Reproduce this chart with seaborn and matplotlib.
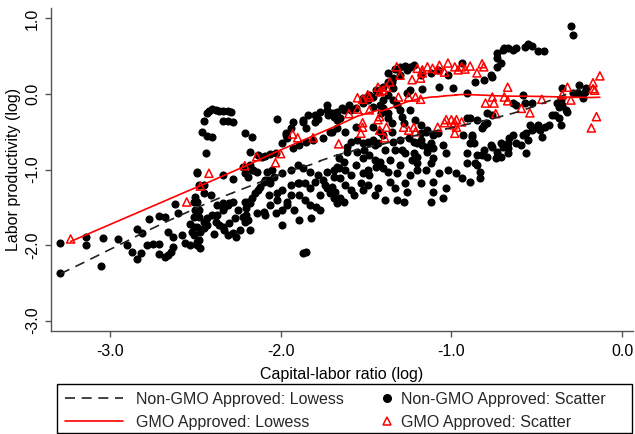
import numpy as np
import pandas as pd
import matplotlib
matplotlib.use("Agg")
import matplotlib.pyplot as plt
import seaborn as sns
from matplotlib.lines import Line2D
from matplotlib.patches import Rectangle

sns.set_theme(style="white")
plt.rcParams['font.family'] = ['Liberation Sans', 'DejaVu Sans']

# ---------------- data (log capital-labor ratio, log labor productivity) ----------------
nongmo_lowleft = [
    (-3.29, -1.97), (-3.29, -2.37), (-3.14, -1.89), (-3.14, -2.00), (-3.05, -2.28), (-3.04, -1.91),
    (-2.95, -1.92), (-2.90, -2.00), (-2.87, -2.09), (-2.84, -2.19), (-2.82, -2.11), (-2.84, -1.79),
    (-2.81, -1.84), (-2.77, -1.66), (-2.78, -2.00), (-2.75, -1.99), (-2.71, -1.62), (-2.68, -1.63),
    (-2.71, -1.99), (-2.71, -2.12), (-2.68, -2.16), (-2.66, -2.13), (-2.64, -2.09), (-2.63, -2.03),
    (-2.63, -1.89), (-2.66, -1.83), (-2.62, -1.46), (-2.60, -1.58), (-2.58, -1.87), (-2.56, -1.97),
    (-2.53, -1.72), (-2.51, -1.87), (-2.53, -2.00), (-2.49, -2.00), (-2.48, -1.93), (-2.50, -1.36),
    (-2.49, -1.43), (-2.48, -1.54), (-2.48, -1.63), (-2.49, -1.05), (-2.48, -1.21), (-2.51, -1.76),
    (-2.45, -1.21), (-2.51, -1.43), (-2.50, -1.54), (-2.51, -1.63), (-2.52, -1.83), (-2.49, -1.96),
    (-2.47, -2.04), (-2.49, -1.76),
]
nongmo_loop = [
    (-2.47, -1.83), (-2.45, -1.77), (-2.43, -1.74), (-2.43, -1.64), (-2.40, -1.60), (-2.38, -1.70),
    (-2.37, -1.60), (-2.34, -1.54), (-2.33, -1.50), (-2.30, -1.44), (-2.28, -1.43), (-2.39, -1.85),
    (-2.36, -1.74), (-2.34, -1.76), (-2.30, -1.71), (-2.28, -1.84), (-2.26, -1.89), (-2.24, -1.80),
    (-2.27, -1.64), (-2.22, -1.63), (-2.20, -1.60), (-2.19, -1.67), (-2.20, -1.51), (-2.18, -1.44),
    (-2.14, -1.58), (-2.09, -1.60), (-2.03, -1.58), (-1.99, -1.74), (-1.99, -1.54), (-1.96, -1.47),
    (-1.87, -2.11), (-1.85, -2.09), (-1.82, -1.64), (-1.79, -1.50), (-2.45, -1.70), (-2.37, -1.47),
    (-2.34, -1.44), (-2.31, -1.47), (-2.25, -1.54), (-2.21, -1.70), (-2.18, -1.80), (-2.33, -1.80),
    (-2.31, -1.87),
]
nongmo_hook = [
    (-2.43, -0.25), (-2.42, -0.23), (-2.40, -0.20), (-2.38, -0.21), (-2.36, -0.23), (-2.34, -0.23),
    (-2.31, -0.23), (-2.29, -0.24), (-2.45, -0.36), (-2.34, -0.36), (-2.31, -0.36), (-2.28, -0.37),
    (-2.46, -0.50), (-2.43, -0.56), (-2.40, -0.57), (-2.44, -0.78), (-2.49, -1.03), (-2.21, -0.52),
    (-2.17, -0.57), (-2.18, -0.77),
]
nongmo_mid_upper = [
    (-2.13, -0.81), (-2.11, -0.83), (-2.09, -0.82), (-2.06, -0.79), (-2.03, -0.78), (-2.02, -0.33),
    (-1.99, -0.65), (-1.97, -0.52), (-1.94, -0.45), (-1.93, -0.37), (-1.87, -0.37), (-1.85, -0.45),
    (-1.80, -0.37), (-1.78, -0.33), (-1.73, -0.15), (-1.72, -0.28), (-1.68, -0.25), (-1.67, -0.34),
    (-1.96, -0.58), (-1.93, -0.72), (-1.89, -0.68), (-1.85, -0.64), (-1.81, -0.61), (-1.75, -0.58),
    (-1.71, -0.50), (-1.67, -0.45), (-2.22, -0.97), (-2.18, -0.94), (-2.16, -1.01), (-2.14, -1.03),
    (-2.08, -1.03), (-2.05, -1.01), (-1.99, -1.05), (-1.94, -1.01), (-1.90, -0.94), (-1.73, -1.03),
    (-1.69, -1.01), (-1.66, -0.98), (-2.34, -1.07), (-2.28, -1.13), (-2.21, -1.05), (-2.19, -1.10),
    (-2.17, -1.01), (-2.09, -1.14), (-2.06, -1.18), (-2.45, -1.31), (-2.41, -1.34), (-1.97, -0.54),
]
nongmo_mid_band = [
    (-2.21, -1.43), (-2.19, -1.43), (-2.17, -1.38), (-2.15, -1.31), (-2.13, -1.27), (-2.12, -1.23),
    (-2.10, -1.17), (-2.07, -1.14), (-2.04, -1.10), (-2.10, -1.56), (-2.06, -1.47), (-1.96, -1.43),
    (-1.94, -1.34), (-2.02, -1.31), (-1.90, -1.18), (-1.86, -1.18), (-1.80, -1.17), (-1.75, -1.14),
    (-1.73, -1.25), (-1.71, -1.31), (-1.69, -1.38), (-1.67, -1.44), (-1.87, -0.98), (-1.83, -1.03),
    (-1.78, -1.07), (-1.89, -1.34), (-1.86, -1.40), (-1.92, -1.54), (-1.77, -1.34), (-1.74, -1.21),
    (-1.89, -1.18), (-1.83, -1.25), (-1.94, -1.21), (-1.99, -1.27), (-2.02, -1.40), (-2.07, -1.34),
    (-1.83, -1.47), (-1.77, -1.54), (-1.89, -1.67),
]
nongmo_upper = [
    (-1.87, -0.34), (-1.84, -0.28), (-1.80, -0.28), (-1.77, -0.24), (-1.73, -0.21), (-1.70, -0.25),
    (-1.67, -0.24), (-1.63, -0.21), (-1.59, -0.21), (-1.56, -0.19), (-1.52, -0.12), (-1.49, -0.08),
    (-1.46, -0.04), (-1.43, 0.03), (-1.40, 0.09), (-1.37, 0.16), (-1.34, 0.21), (-1.30, 0.25),
    (-1.26, 0.32), (-1.24, 0.36), (-1.22, 0.38), (-1.64, -0.19), (-1.60, -0.15), (-1.52, -0.05),
    (-1.48, -0.01), (-1.44, 0.05), (-1.37, 0.28), (-1.33, 0.33), (-1.30, 0.36), (-1.27, 0.37),
    (-1.18, 0.25), (-1.12, 0.28), (-1.08, 0.32), (-1.02, 0.25), (-0.94, 0.41), (-0.86, 0.16),
    (-1.35, 0.16), (-1.34, 0.08), (-1.37, -0.01), (-1.40, -0.08), (-1.42, -0.15), (-1.24, 0.05),
    (-1.26, 0.01), (-1.07, 0.09), (-0.99, 0.08), (-0.91, 0.01), (-1.17, 0.07), (-1.69, -0.30),
    (-1.65, -0.32), (-1.40, -0.19), (-1.37, -0.25), (-1.34, -0.08), (-1.32, -0.15), (-1.30, -0.21),
    (-1.29, -0.30), (-1.28, -0.38), (-1.37, -0.32), (-1.35, -0.38), (-1.46, -0.17), (-1.41, -0.25),
    (-1.24, -0.21), (-1.21, -0.34), (-1.18, -0.41), (-0.91, -0.32), (-0.85, -0.34),
]
nongmo_upper_right = [
    (-0.30, 0.90), (-0.29, 0.78), (-0.73, 0.48), (-0.73, 0.54), (-0.70, 0.58), (-0.69, 0.61),
    (-0.67, 0.61), (-0.64, 0.58), (-0.62, 0.61), (-0.57, 0.62), (-0.55, 0.66), (-0.53, 0.64),
    (-0.49, 0.57), (-0.46, 0.57), (-0.73, 0.36), (-0.71, 0.41), (-0.77, 0.25), (-0.76, 0.23),
    (-0.81, 0.19),
]
nongmo_right = [
    (-0.58, -0.01), (-0.64, -0.12), (-0.62, -0.15), (-0.57, -0.12), (-0.53, -0.12), (-0.38, -0.12),
    (-0.37, -0.17), (-0.35, -0.15), (-0.33, -0.21), (-0.32, -0.24), (-0.41, -0.28), (-0.39, -0.28),
    (-0.37, -0.32), (-0.35, 0.08), (-0.25, 0.12), (-0.21, 0.08), (-0.29, 0.01), (-0.26, 0.01),
    (-0.23, -0.05), (-0.43, -0.41), (-0.49, -0.41), (-0.51, -0.45), (-0.45, -0.44), (-0.36, -0.41),
    (-0.79, -0.25), (-0.76, -0.28), (-0.82, -0.45), (-0.89, -0.32), (-0.22, 0.03), (-0.36, -0.08),
    (-0.54, -0.41),
]
nongmo_center = [
    (-1.70, -0.50), (-1.62, -0.50), (-1.56, -0.44), (-1.46, -0.44), (-1.42, -0.50), (-1.40, -0.54),
    (-1.35, -0.50), (-1.59, -0.64), (-1.61, -0.70), (-1.61, -0.77), (-1.52, -0.65), (-1.49, -0.64),
    (-1.46, -0.61), (-1.45, -0.68), (-1.43, -0.65), (-1.34, -0.64), (-1.30, -0.61), (-1.18, -0.52),
    (-1.15, -0.50), (-1.14, -0.48), (-1.25, -0.58), (-1.22, -0.64), (-1.20, -0.65), (-1.18, -0.61),
    (-1.17, -0.68), (-1.14, -0.70), (-1.12, -0.65), (-1.11, -0.54), (-1.08, -0.52), (-1.29, -0.74),
    (-1.27, -0.78), (-1.22, -0.78), (-1.20, -0.83), (-1.14, -0.77), (-1.05, -0.68), (-1.03, -0.78),
    (-0.93, -0.54), (-0.88, -0.54), (-0.87, -0.65), (-0.91, -0.78), (-1.11, -0.72), (-1.11, -0.85),
    (-1.12, -0.91), (-1.66, -0.85), (-1.63, -0.90), (-1.67, -0.97), (-1.62, -1.01), (-1.59, -1.07),
    (-1.65, -1.11), (-1.69, -1.10), (-1.70, -1.23), (-1.68, -1.30), (-1.65, -1.38), (-1.63, -1.43),
    (-1.55, -0.77), (-1.52, -0.85), (-1.48, -0.81), (-1.45, -0.87), (-1.42, -0.90), (-1.44, -0.97),
    (-1.40, -0.98), (-1.49, -1.01), (-1.52, -1.05), (-1.48, -1.07), (-1.53, -1.18), (-1.52, -1.27),
    (-1.57, -1.34), (-1.45, -1.34), (-1.43, -1.25), (-1.39, -1.40), (-1.32, -1.40), (-1.28, -1.43),
    (-1.36, -1.17), (-1.33, -1.25), (-1.27, -1.18), (-1.26, -1.30), (-1.32, -1.05), (-1.20, -0.91),
    (-1.20, -1.01), (-1.24, -1.07), (-1.18, -1.18), (-1.12, -1.43), (-1.05, -1.38), (-1.03, -1.25),
    (-1.11, -1.17), (-1.07, -1.05), (-1.02, -1.01), (-1.11, -1.30), (-0.97, -1.05), (-0.94, -1.11),
    (-0.89, -1.17), (-0.91, -0.91), (-0.85, -0.94), (-0.83, -1.03), (-0.82, -0.81), (-0.79, -0.83),
    (-0.71, -0.83), (-0.67, -0.78), (-0.56, -0.78), (-1.56, -0.94), (-1.39, -0.74), (-1.36, -0.87),
    (-1.33, -0.74), (-1.55, -0.61), (-1.51, -0.74), (-1.37, -1.03), (-1.30, -0.94), (-1.62, -1.21),
    (-1.59, -1.27), (-1.49, -1.21), (-1.23, -0.87), (-1.15, -1.01),
]
nongmo_lowright = [
    (-0.81, -0.41), (-0.79, -0.38), (-0.88, -0.57), (-0.89, -0.65), (-0.48, -0.48), (-0.47, -0.57),
    (-0.53, -0.48), (-0.56, -0.52), (-0.58, -0.54), (-0.55, -0.61), (-0.59, -0.68), (-0.62, -0.65),
    (-0.64, -0.54), (-0.66, -0.58), (-0.67, -0.65), (-0.70, -0.70), (-0.67, -0.72), (-0.71, -0.65),
    (-0.73, -0.77), (-0.76, -0.70), (-0.77, -0.68), (-0.81, -0.74), (-0.85, -0.81), (-0.74, -0.85),
    (-0.86, -0.91), (-0.83, -1.11),
]

gmo_points = [
    (-3.23, -1.92), (-2.55, -1.43), (-2.47, -1.22), (-2.42, -1.05), (-2.21, -0.95), (-2.14, -0.83),
    (-2.03, -0.91), (-2.00, -0.79), (-1.93, -0.53), (-1.90, -0.58), (-1.81, -0.58), (-1.66, -0.66),
    (-1.32, 0.36), (-1.30, 0.25), (-1.23, 0.19), (-1.20, 0.34), (-1.17, 0.32), (-1.17, 0.28),
    (-1.18, 0.21), (-1.14, 0.36), (-1.11, 0.34), (-1.08, 0.32), (-1.07, 0.38), (-1.04, 0.29),
    (-1.02, 0.41), (-0.98, 0.36), (-0.96, 0.32), (-0.94, 0.36), (-0.92, 0.33), (-0.89, 0.37),
    (-0.85, 0.28), (-0.81, 0.36), (-0.82, 0.40), (-1.36, 0.16), (-1.38, 0.09), (-1.40, 0.05),
    (-1.42, 0.03), (-1.43, 0.09), (-1.49, -0.01), (-1.48, -0.04), (-1.55, -0.05), (-1.52, -0.07),
    (-1.31, -0.04), (-1.25, -0.04), (-1.21, -0.04), (-1.18, -0.07), (-1.48, -0.21), (-1.55, -0.20),
    (-1.60, -0.26), (-1.42, -0.30), (-1.43, -0.34), (-1.52, -0.38), (-1.52, -0.44), (-1.38, -0.44),
    (-1.03, -0.34), (-1.00, -0.34), (-0.97, -0.34), (-0.94, -0.37), (-1.04, -0.38), (-0.98, -0.38),
    (-1.08, -0.44), (-1.22, -0.44), (-1.53, -0.52), (-1.42, -0.48), (-1.39, -0.58), (-1.28, -0.44),
    (-1.25, -0.48), (-1.21, -0.50), (-0.99, -0.41), (-0.97, -0.44), (-0.98, -0.52), (-0.67, 0.09),
    (-0.76, -0.04), (-0.80, -0.12), (-0.75, -0.12), (-0.69, -0.04), (-0.67, -0.09), (-0.74, -0.26),
    (-0.59, -0.19), (-0.54, -0.25), (-0.47, -0.07), (-0.32, 0.09), (-0.35, -0.01), (-0.30, -0.08),
    (-0.17, 0.15), (-0.17, 0.07), (-0.16, 0.05), (-0.13, 0.24), (-0.15, -0.30), (-0.18, -0.45),
]

x_ticks = [-3.0, -2.0, -1.0, 0.0]
x_tick_labels = ["-3.0", "-2.0", "-1.0", "0.0"]
y_ticks = [-3.0, -2.0, -1.0, 0.0, 1.0]
y_tick_labels = ["-3.0", "-2.0", "-1.0", "0.0", "1.0"]
legend_labels = ["Non-GMO Approved: Lowess", "GMO Approved: Lowess",
                 "Non-GMO Approved: Scatter", "GMO Approved: Scatter"]
x_title = "Capital-labor ratio (log)"
y_title = "Labor productivity (log)"

nongmo = np.array(nongmo_lowleft + nongmo_loop + nongmo_hook + nongmo_mid_upper + nongmo_mid_band
                  + nongmo_upper + nongmo_upper_right + nongmo_right + nongmo_center + nongmo_lowright)
gmo = np.array(gmo_points)
df_n = pd.DataFrame({"x": nongmo[:, 0], "y": nongmo[:, 1]})
df_g = pd.DataFrame({"x": gmo[:, 0], "y": gmo[:, 1]})


def stata_lowess(x, y, bw=0.8):
    """Stata-style running-line lowess (tricube weights, symmetric rank window)."""
    order = np.argsort(x, kind="mergesort")
    xs, ys = np.asarray(x)[order], np.asarray(y)[order]
    n = len(xs)
    k = int(np.floor((n * bw - 0.5) / 2))
    fit = np.empty(n)
    for i in range(n):
        lo, hi = max(0, i - k), min(n - 1, i + k)
        xw, yw = xs[lo:hi + 1], ys[lo:hi + 1]
        d = np.abs(xw - xs[i])
        delta = 1.0001 * d.max()
        w = (1 - (d / delta) ** 3) ** 3
        W = w.sum()
        mx = (w * xw).sum() / W
        my = (w * yw).sum() / W
        sxx = (w * (xw - mx) ** 2).sum()
        b = (w * (xw - mx) * (yw - my)).sum() / sxx if sxx > 0 else 0.0
        fit[i] = my + b * (xs[i] - mx)
    return pd.DataFrame({"x": xs, "y": fit})


low_n = stata_lowess(df_n["x"].values, df_n["y"].values)
low_g = stata_lowess(df_g["x"].values, df_g["y"].values)

W, H = 635, 434
fig = plt.figure(figsize=(W / 100, H / 100), dpi=100)
fig.patch.set_facecolor("white")
ax = fig.add_axes([51 / W, (H - 331) / H, 582 / W, 323 / H])
ax.set_facecolor("white")

RED = "#ff0000"
sns.scatterplot(data=df_n, x="x", y="y", ax=ax, color="black", s=34, linewidth=0, marker="o", zorder=2)
sns.scatterplot(data=df_g, x="x", y="y", ax=ax, marker="^", s=34, facecolor="none",
                edgecolor=RED, linewidth=1.1, zorder=3)
sns.lineplot(data=low_n, x="x", y="y", ax=ax, sort=False, estimator=None, color="#222222",
             lw=1.2, linestyle=(0, (6, 4)), zorder=4)
sns.lineplot(data=low_g, x="x", y="y", ax=ax, sort=False, estimator=None, color=RED,
             lw=1.2, zorder=5)

ax.set_xlim(-3.345, 0.064)
ax.set_ylim(-3.139, 1.139)
for s in ["top", "right"]:
    ax.spines[s].set_visible(False)
for s in ["left", "bottom"]:
    ax.spines[s].set_color("#555555")
    ax.spines[s].set_linewidth(1.0)
ax.set_xticks(x_ticks)
ax.set_xticklabels(x_tick_labels, fontsize=11.5)
ax.set_yticks(y_ticks)
ax.set_yticklabels(y_tick_labels, fontsize=11.5, rotation=90, va="center")
ax.tick_params(axis="both", direction="out", length=4, width=1.0, color="#555555",
               labelcolor="black", bottom=True, left=True)
ax.tick_params(axis="x", pad=5)
ax.tick_params(axis="y", pad=4)
ax.grid(False)

ax.set_xlabel(x_title, fontsize=11.5, color="black")
ax.set_ylabel(y_title, fontsize=11.5, color="black")
ax.xaxis.set_label_coords(0.5, -0.112)
ax.yaxis.set_label_coords(-0.052, 0.5)

# legend box
fig.patches.append(Rectangle((57 / W, 1.5 / H), 575 / W, (H - 384 - 1.5) / H,
                             transform=fig.transFigure, fill=False, edgecolor="black", lw=1.0))
line_handles = [Line2D([], [], color="#222222", lw=1.2, linestyle=(0, (6, 4))),
                Line2D([], [], color=RED, lw=1.2)]
mark_handles = [Line2D([], [], color="black", marker="o", markersize=5.5, linestyle="none"),
                Line2D([], [], color=RED, marker="^", markersize=5.5, markerfacecolor="none",
                       markeredgewidth=1.1, linestyle="none")]
fig.legend(line_handles, legend_labels[:2], loc="upper left", bbox_to_anchor=(65 / W, (H - 392) / H),
           frameon=False, fontsize=11.5, handlelength=3.6, handletextpad=0.85, labelspacing=0.5,
           borderpad=0, borderaxespad=0)
fig.legend(mark_handles, legend_labels[2:], loc="upper left", bbox_to_anchor=(379 / W, (H - 392) / H),
           frameon=False, fontsize=11.5, handlelength=1.0, handletextpad=0.4, labelspacing=0.5,
           borderpad=0, borderaxespad=0)

fig.savefig("out.png", dpi=100, facecolor="white")
